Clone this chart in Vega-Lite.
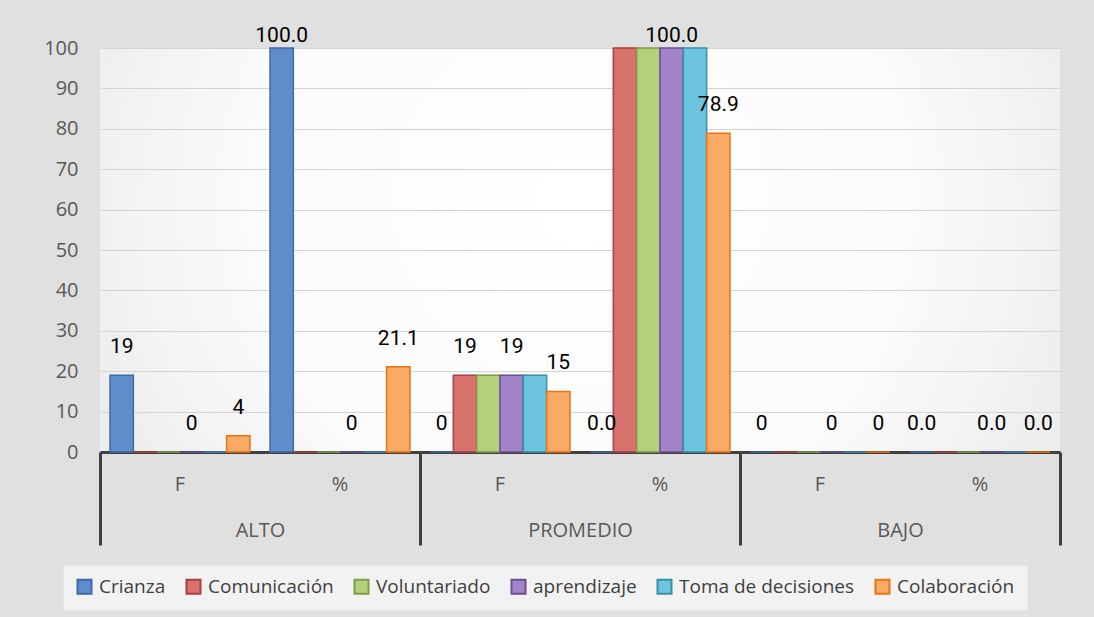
{
  "$schema": "https://vega.github.io/schema/vega-lite/v6.json",
  "width": 960,
  "height": 404,
  "autosize": {"type": "none"},
  "padding": {"left": 100, "top": 48, "right": 34, "bottom": 165},
  "background": "#e0e0e0",
  "config": {
    "view": {
      "stroke": null,
      "fill": {
        "gradient": "radial",
        "x1": 0.5, "y1": 0.45, "r1": 0,
        "x2": 0.5, "y2": 0.45, "r2": 0.75,
        "stops": [
          {"offset": 0, "color": "#ffffff"},
          {"offset": 0.45, "color": "#fbfbfb"},
          {"offset": 1, "color": "#e0e0e0"}
        ]
      }
    },
    "axis": {"labelFont": "Open Sans", "labelFontSize": 20, "labelColor": "#595959", "title": null}
  },
  "data": {
    "values": [
      {"g": "ALTO", "c": "ALTO|F", "s": "Crianza", "v": 19, "t": "19"},
      {"g": "ALTO", "c": "ALTO|F", "s": "Comunicación", "v": 0, "t": ""},
      {"g": "ALTO", "c": "ALTO|F", "s": "Voluntariado", "v": 0, "t": ""},
      {"g": "ALTO", "c": "ALTO|F", "s": "aprendizaje", "v": 0, "t": "0"},
      {"g": "ALTO", "c": "ALTO|F", "s": "Toma de decisiones", "v": 0, "t": ""},
      {"g": "ALTO", "c": "ALTO|F", "s": "Colaboración", "v": 4, "t": "4"},
      {"g": "ALTO", "c": "ALTO|%", "s": "Crianza", "v": 100, "t": "100.0"},
      {"g": "ALTO", "c": "ALTO|%", "s": "Comunicación", "v": 0, "t": ""},
      {"g": "ALTO", "c": "ALTO|%", "s": "Voluntariado", "v": 0, "t": ""},
      {"g": "ALTO", "c": "ALTO|%", "s": "aprendizaje", "v": 0, "t": "0"},
      {"g": "ALTO", "c": "ALTO|%", "s": "Toma de decisiones", "v": 0, "t": ""},
      {"g": "ALTO", "c": "ALTO|%", "s": "Colaboración", "v": 21.1, "t": "21.1"},
      {"g": "PROMEDIO", "c": "PROMEDIO|F", "s": "Crianza", "v": 0, "t": "0"},
      {"g": "PROMEDIO", "c": "PROMEDIO|F", "s": "Comunicación", "v": 19, "t": "19"},
      {"g": "PROMEDIO", "c": "PROMEDIO|F", "s": "Voluntariado", "v": 19, "t": ""},
      {"g": "PROMEDIO", "c": "PROMEDIO|F", "s": "aprendizaje", "v": 19, "t": "19"},
      {"g": "PROMEDIO", "c": "PROMEDIO|F", "s": "Toma de decisiones", "v": 19, "t": ""},
      {"g": "PROMEDIO", "c": "PROMEDIO|F", "s": "Colaboración", "v": 15, "t": "15"},
      {"g": "PROMEDIO", "c": "PROMEDIO|%", "s": "Crianza", "v": 0, "t": "0.0"},
      {"g": "PROMEDIO", "c": "PROMEDIO|%", "s": "Comunicación", "v": 100, "t": ""},
      {"g": "PROMEDIO", "c": "PROMEDIO|%", "s": "Voluntariado", "v": 100, "t": ""},
      {"g": "PROMEDIO", "c": "PROMEDIO|%", "s": "aprendizaje", "v": 100, "t": "100.0"},
      {"g": "PROMEDIO", "c": "PROMEDIO|%", "s": "Toma de decisiones", "v": 100, "t": ""},
      {"g": "PROMEDIO", "c": "PROMEDIO|%", "s": "Colaboración", "v": 78.9, "t": "78.9"},
      {"g": "BAJO", "c": "BAJO|F", "s": "Crianza", "v": 0, "t": "0"},
      {"g": "BAJO", "c": "BAJO|F", "s": "Comunicación", "v": 0, "t": ""},
      {"g": "BAJO", "c": "BAJO|F", "s": "Voluntariado", "v": 0, "t": ""},
      {"g": "BAJO", "c": "BAJO|F", "s": "aprendizaje", "v": 0, "t": "0"},
      {"g": "BAJO", "c": "BAJO|F", "s": "Toma de decisiones", "v": 0, "t": ""},
      {"g": "BAJO", "c": "BAJO|F", "s": "Colaboración", "v": 0, "t": "0"},
      {"g": "BAJO", "c": "BAJO|%", "s": "Crianza", "v": 0, "t": "0.0"},
      {"g": "BAJO", "c": "BAJO|%", "s": "Comunicación", "v": 0, "t": ""},
      {"g": "BAJO", "c": "BAJO|%", "s": "Voluntariado", "v": 0, "t": ""},
      {"g": "BAJO", "c": "BAJO|%", "s": "aprendizaje", "v": 0, "t": "0.0"},
      {"g": "BAJO", "c": "BAJO|%", "s": "Toma de decisiones", "v": 0, "t": ""},
      {"g": "BAJO", "c": "BAJO|%", "s": "Colaboración", "v": 0, "t": "0.0"}
    ]
  },
  "layer": [
    {
      "encoding": {
        "x": {
          "field": "c", "type": "nominal",
          "scale": {"domain": ["ALTO|F", "ALTO|%", "PROMEDIO|F", "PROMEDIO|%", "BAJO|F", "BAJO|%"], "paddingInner": 0, "paddingOuter": 0},
          "axis": {"orient": "bottom", "ticks": false, "domain": false, "grid": false, "labelAngle": 0, "labelPadding": 32, "labelBaseline": "middle", "labelExpr": "split(datum.value, '|')[1]"}
        },
        "xOffset": {
          "field": "s", "type": "nominal",
          "scale": {"domain": ["Crianza", "Comunicación", "Voluntariado", "aprendizaje", "Toma de decisiones", "Colaboración"], "paddingInner": 0, "paddingOuter": 0.43}
        },
        "y": {
          "field": "v", "type": "quantitative",
          "scale": {"domain": [0, 100]},
          "axis": {"values": [0, 10, 20, 30, 40, 50, 60, 70, 80, 90, 100], "domain": false, "ticks": false, "labelPadding": 22, "grid": true, "gridColor": "#d4d4d4", "gridWidth": 1}
        }
      },
      "layer": [
        {
          "mark": {"type": "bar", "strokeWidth": 1.5},
          "encoding": {
            "fill": {
              "field": "s", "type": "nominal",
              "scale": {"domain": ["Crianza", "Comunicación", "Voluntariado", "aprendizaje", "Toma de decisiones", "Colaboración"], "range": ["#5f8dcc", "#d9716f", "#b4d07a", "#a285c8", "#6cc4de", "#f9ab66"]},
              "legend": {"title": null, "orient": "none", "legendX": -37, "legendY": 517, "direction": "horizontal", "columns": 6, "symbolType": "square", "symbolSize": 196, "symbolStrokeWidth": 2, "labelFont": "Open Sans", "labelFontSize": 19, "labelColor": "#404040", "labelOffset": 5, "columnPadding": 16, "padding": 12, "fillColor": "#f2f2f2", "strokeColor": "#e6e6e6", "labelLimit": 300}
            },
            "stroke": {
              "field": "s", "type": "nominal",
              "scale": {"domain": ["Crianza", "Comunicación", "Voluntariado", "aprendizaje", "Toma de decisiones", "Colaboración"], "range": ["#3d6aa8", "#a8403d", "#7f9b48", "#6c4f93", "#3590a8", "#e8730f"]},
              "legend": {"title": null, "orient": "none", "legendX": -37, "legendY": 517, "direction": "horizontal", "columns": 6, "symbolType": "square", "symbolSize": 196, "symbolStrokeWidth": 2, "labelFont": "Open Sans", "labelFontSize": 19, "labelColor": "#404040", "labelOffset": 5, "columnPadding": 16, "padding": 12, "fillColor": "#f2f2f2", "strokeColor": "#e6e6e6", "labelLimit": 300}
            }
          }
        },
        {
          "transform": [{"filter": "datum.t != ''"}],
          "mark": {"type": "text", "font": "Roboto", "fontSize": 21, "color": "#000000", "baseline": "alphabetic", "dy": {"expr": "datum.v >= 100 ? -6 : -22"}},
          "encoding": {"text": {"field": "t"}}
        }
      ]
    },
    {
      "mark": {"type": "rule", "opacity": 0},
      "encoding": {
        "x": {
          "field": "g", "type": "nominal",
          "scale": {"type": "band", "domain": ["ALTO", "PROMEDIO", "BAJO"], "paddingInner": 0, "paddingOuter": 0},
          "axis": {"orient": "bottom", "tickBand": "extent", "tickSize": 93, "tickWidth": 3, "tickColor": "#404040", "domain": true, "domainWidth": 3, "domainColor": "#404040", "grid": false, "labelAngle": 0, "labelPadding": -15, "labelBaseline": "middle"}
        }
      }
    }
  ],
  "resolve": {"scale": {"x": "independent"}, "axis": {"x": "independent"}}
}
